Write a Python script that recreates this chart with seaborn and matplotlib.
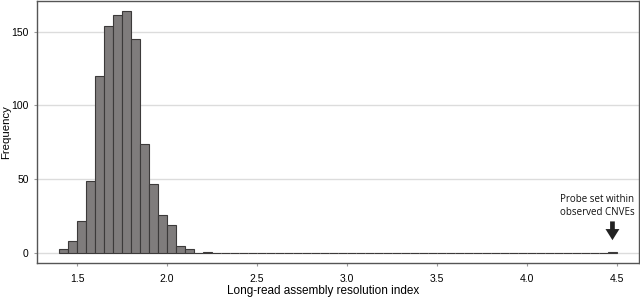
import numpy as np
import pandas as pd
import seaborn as sns
import matplotlib
matplotlib.use("Agg")
import matplotlib.pyplot as plt

# Histogram data (bin centers, bin width 0.05) and counts
bin_centers = [1.425, 1.475, 1.525, 1.575, 1.625, 1.675, 1.725, 1.775, 1.825,
               1.875, 1.925, 1.975, 2.025, 2.075, 2.125, 2.175, 2.225, 4.475]
counts = [3, 8, 22, 49, 120, 154, 161, 164, 145,
          74, 47, 26, 19, 5, 3, 0, 1, 1]
x_ticks = [1.5, 2.0, 2.5, 3.0, 3.5, 4.0, 4.5]
y_ticks = [0, 50, 100, 150]
annotation_text = "Probe set within\nobserved CNVEs"

sns.set_theme(style="white")
plt.rcParams['font.family'] = ['Liberation Sans', 'DejaVu Sans']

df = pd.DataFrame({"index": bin_centers, "count": counts})

fig = plt.figure(figsize=(6.4, 3.01), dpi=100)
ax = fig.add_axes([0.058, 0.127, 0.940, 0.871])

ax.yaxis.grid(True, color="#dcdcdc", lw=1.0, zorder=0)
ax.set_axisbelow(True)

sns.histplot(data=df, x="index", weights="count", binwidth=0.05,
             binrange=(1.4, 4.5), color="#7f7c7c", edgecolor="#3c3a3a",
             linewidth=0.8, alpha=1.0, ax=ax, zorder=2)

ax.set_xlim(1.278, 4.622)
ax.set_ylim(-6.5, 171)
ax.set_xticks(x_ticks)
ax.set_xticklabels([f"{t:.1f}" for t in x_ticks])
ax.set_yticks(y_ticks)
ax.set_yticklabels([str(t) for t in y_ticks])

ax.tick_params(axis="both", which="major", labelsize=7.5, length=2.5,
               width=0.8, color="#9a9a9a", direction="out",
               bottom=True, left=True, labelcolor="#000000")
ax.tick_params(axis="x", pad=5.5)
ax.tick_params(axis="y", pad=3.5)

for s in ax.spines.values():
    s.set_color("#555555")
    s.set_linewidth(1.0)

ax.set_xlabel("Long-read assembly resolution index", fontsize=8.5,
              color="#000000")
ax.set_ylabel("Frequency", fontsize=8.2, color="#000000")
ax.xaxis.set_label_coords(0.475, -0.085)
ax.yaxis.set_label_coords(-0.044, 0.5)

ax.text(4.39, 32, annotation_text, ha="center", va="center",
        fontsize=7, family=["Open Sans", "DejaVu Sans"],
        color="#111111", linespacing=1.15)
ax.annotate("", xy=(4.476, 8.8), xytext=(4.476, 21.5),
            arrowprops=dict(width=3.4, headwidth=10.0, headlength=8.0,
                            shrink=0.0, facecolor="#222222",
                            edgecolor="#222222", lw=0))

fig.savefig("out.png", dpi=100)
